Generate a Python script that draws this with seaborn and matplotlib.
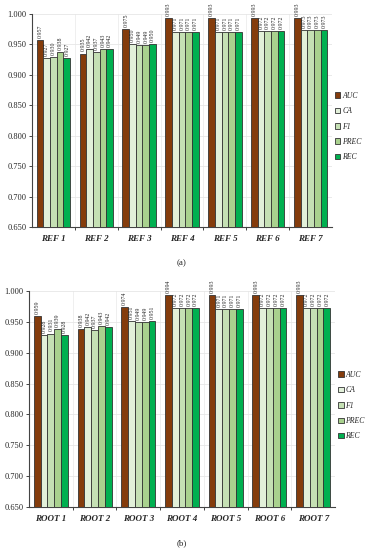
import seaborn as sns
import matplotlib.pyplot as plt
import matplotlib.ticker as mticker
import numpy as np
import pandas as pd

# data
metrics = ['AUC', 'CA', 'F1', 'PREC', 'REC']
ref_names = ['REF 1', 'REF 2', 'REF 3', 'REF 4', 'REF 5', 'REF 6', 'REF 7']
ref_auc = [0.957, 0.935, 0.975, 0.993, 0.993, 0.993, 0.993]
ref_ca = [0.927, 0.942, 0.950, 0.971, 0.971, 0.972, 0.973]
ref_f1 = [0.930, 0.937, 0.949, 0.971, 0.971, 0.972, 0.973]
ref_prec = [0.938, 0.943, 0.949, 0.971, 0.971, 0.972, 0.973]
ref_rec = [0.927, 0.942, 0.950, 0.971, 0.971, 0.972, 0.973]

root_names = ['ROOT 1', 'ROOT 2', 'ROOT 3', 'ROOT 4', 'ROOT 5', 'ROOT 6', 'ROOT 7']
root_auc = [0.959, 0.938, 0.974, 0.994, 0.993, 0.993, 0.993]
root_ca = [0.928, 0.942, 0.951, 0.972, 0.971, 0.972, 0.972]
root_f1 = [0.931, 0.937, 0.949, 0.972, 0.971, 0.972, 0.972]
root_prec = [0.939, 0.943, 0.949, 0.972, 0.971, 0.972, 0.972]
root_rec = [0.928, 0.942, 0.951, 0.972, 0.971, 0.972, 0.972]

colors = ['#843C0C', '#E2F0D9', '#C5E0B4', '#A9D18E', '#00B050']

sns.set_style('white')
plt.rcParams['font.family'] = ['Liberation Serif', 'DejaVu Serif']


def to_long(names, series):
    rows = []
    for m, vals in zip(metrics, series):
        for n, v in zip(names, vals):
            rows.append({'model': n, 'metric': m, 'value': v})
    return pd.DataFrame(rows)


def draw_panel(ax, df, names, tag, leg_y):
    sns.barplot(data=df, x='model', y='value', hue='metric', order=names,
                hue_order=metrics, palette=colors, saturation=1, width=0.78,
                edgecolor='#333333', linewidth=0.6, ax=ax, zorder=3)
    ax.set_ylim(0.65, 1.0)
    ax.set_xlim(-0.5, len(names) - 0.5)
    ax.yaxis.set_major_locator(mticker.MultipleLocator(0.05))
    ax.yaxis.set_major_formatter(mticker.FormatStrFormatter('%.3f'))
    ax.xaxis.set_minor_locator(mticker.FixedLocator(np.arange(0.5, len(names) - 1, 1)))
    ax.grid(axis='y', color='#e6e6e6', linewidth=0.6, zorder=0)
    ax.grid(axis='x', which='minor', color='#ececec', linewidth=0.6, zorder=0)
    ax.set_axisbelow(True)
    for c in ax.containers:
        ax.bar_label(c, fmt='%.3f', rotation=90, fontsize=4.2, padding=1.5)
    for s in ['top', 'right']:
        ax.spines[s].set_visible(False)
    for s in ['left', 'bottom']:
        ax.spines[s].set_color('#444444')
        ax.spines[s].set_linewidth(0.8)
    ax.tick_params(axis='y', labelsize=6, length=2, width=0.6, left=True, pad=2)
    ax.tick_params(axis='x', which='major', labelsize=6.5, length=0, pad=6)
    ax.tick_params(axis='x', which='minor', length=2, width=0.6, bottom=True)
    for t in ax.get_xticklabels():
        t.set_fontstyle('italic')
        t.set_fontweight('bold')
    ax.set_xlabel('')
    ax.set_ylabel('')
    leg = ax.legend(loc='upper left', bbox_to_anchor=(1.01, leg_y), frameon=False,
                    fontsize=5.6, handlelength=0.7, handleheight=0.7,
                    handletextpad=0.25, labelspacing=0.95, borderaxespad=0,
                    borderpad=0)
    for t in leg.get_texts():
        t.set_fontstyle('italic')
    ax.text(0.5, -0.168, tag, transform=ax.transAxes, ha='center', va='center',
            fontsize=6.5)


fig = plt.figure(figsize=(3.71, 5.5), dpi=100)
ax1 = fig.add_axes([32 / 371, 1 - 227 / 550, 300 / 371, 213 / 550])
ax2 = fig.add_axes([29 / 371, 1 - 507 / 550, 306 / 371, 216 / 550])

draw_panel(ax1, to_long(ref_names, [ref_auc, ref_ca, ref_f1, ref_prec, ref_rec]), ref_names, '(a)', 0.635)
draw_panel(ax2, to_long(root_names, [root_auc, root_ca, root_f1, root_prec, root_rec]), root_names, '(b)', 0.63)

fig.savefig('out.png', dpi=100)
